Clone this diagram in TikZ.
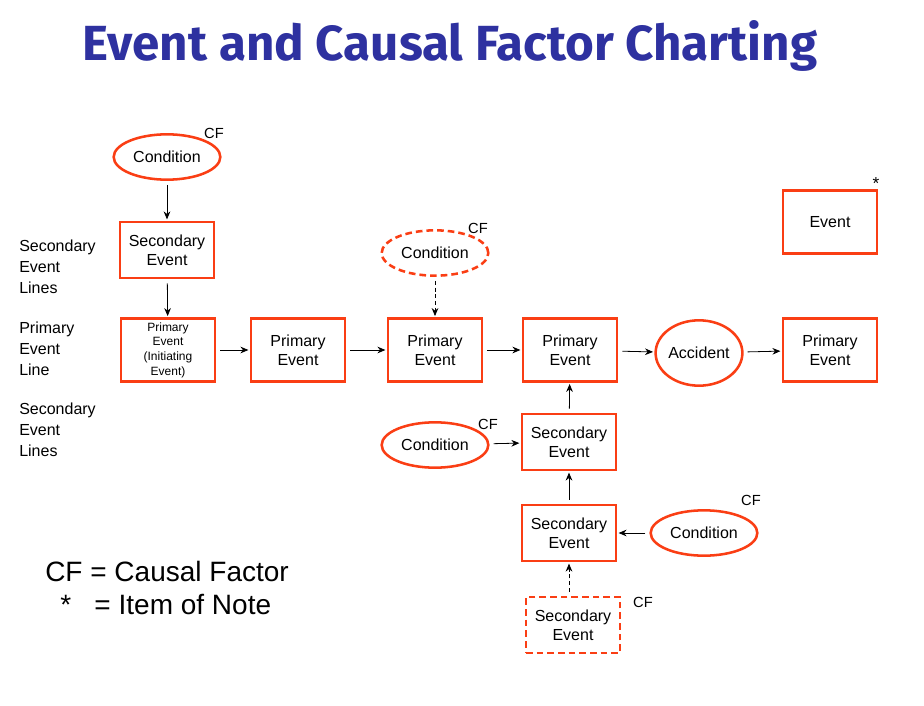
\documentclass[tikz,border=0pt]{standalone}
\usepackage{fontspec}
\setmainfont{Liberation Sans}
\newfontfamily\titlefont{Fira Sans}
\usetikzlibrary{shapes.geometric,arrows.meta}
\definecolor{ored}{RGB}{250,62,20}
\definecolor{tblue}{RGB}{46,49,160}
\begin{document}
\begin{tikzpicture}[x=0.75pt,y=-0.75pt,
  box/.style={draw=ored,line width=1.9pt,minimum width=70.5pt,minimum height=47pt,align=center,font=\fontsize{12}{14}\selectfont,inner sep=1pt},
  sbox/.style={box,minimum height=42pt},
  cond/.style={draw=ored,line width=1.9pt,ellipse,minimum width=80pt,minimum height=34pt,inner sep=0pt,font=\fontsize{12}{14}\selectfont},
  dsh/.style={dash pattern=on 5pt off 3pt},
  arr/.style={-{Stealth[length=6pt,width=5pt]},line width=0.6pt,shorten <=3pt,shorten >=1pt},
  lbl/.style={align=left,anchor=north west,font=\fontsize{12}{15.5}\selectfont,inner sep=0pt},
  cf/.style={font=\fontsize{11}{13}\selectfont,inner sep=0pt}]
\useasboundingbox (0,0) rectangle (924,706);
\node[text=tblue,font=\titlefont\bfseries\fontsize{37}{40}\selectfont] (title) at (450,46) {Event and Causal Factor Charting};
\node[cond] (c1) at (167,157) {Condition};
\node[cf] (cf1) at (214,133) {CF};
\node[sbox] (s1) at (167,250) {Secondary\\Event};
\node[box,font=\fontsize{9}{11}\selectfont] (p0) at (168,350) {Primary\\Event\\(Initiating\\Event)};
\node[box] (p1) at (298,350) {Primary\\Event};
\node[box] (p2) at (435,350) {Primary\\Event};
\node[box] (p3) at (570,350) {Primary\\Event};
\node[draw=ored,line width=1.9pt,ellipse,minimum width=63pt,minimum height=49pt,inner sep=0pt,font=\fontsize{12}{14}\selectfont] (acc) at (699,353) {Accident};
\node[box] (p4) at (830,350) {Primary\\Event};
\node[box] (ev) at (830,222) {Event};
\node[cf,font=\fontsize{13}{14}\selectfont] (star) at (876,184) {*};
\node[cond,dsh] (c2) at (435,253) {Condition};
\node[cf] (cf2) at (478,228) {CF};
\node[cond] (c3) at (435,445) {Condition};
\node[cf] (cf3) at (488,424) {CF};
\node[sbox] (s2) at (569,442) {Secondary\\Event};
\node[sbox] (s3) at (569,533) {Secondary\\Event};
\node[cond] (c4) at (704,533) {Condition};
\node[cf] (cf4) at (751,500) {CF};
\node[sbox,dsh] (s4) at (573,625) {Secondary\\Event};
\node[cf] (cf5) at (643,602) {CF};
\node[lbl] (l1) at (19,240) {Secondary\\Event\\Lines};
\node[lbl] (l2) at (19,322) {Primary\\Event\\Line};
\node[lbl] (l3) at (19,403) {Secondary\\Event\\Lines};
\node[anchor=west,inner sep=0pt,font=\fontsize{21}{24}\selectfont] (lg1) at (45,571) {CF = Causal Factor};
\node[anchor=west,inner sep=0pt,font=\fontsize{21}{24}\selectfont] (lg2) at (60,604) {*\ \ \ = Item of Note};
\draw[arr] (c1) -- (s1);
\draw[arr] (s1) -- (p0);
\draw[arr] (p0) -- (p1);
\draw[arr] (p1) -- (p2);
\draw[arr] (p2) -- (p3);
\draw[arr] (p3) -- (acc);
\draw[arr] (acc) -- (p4);
\draw[arr,dash pattern=on 3pt off 2pt] (c2) -- (p2);
\draw[arr] (s2) -- (p3);
\draw[arr] (c3) -- (s2);
\draw[arr] (s3) -- (s2);
\draw[arr] (c4) -- (s3);
\draw[arr,dash pattern=on 3pt off 2pt] (s4.north -| s3) -- (s3);
\end{tikzpicture}
\end{document}
